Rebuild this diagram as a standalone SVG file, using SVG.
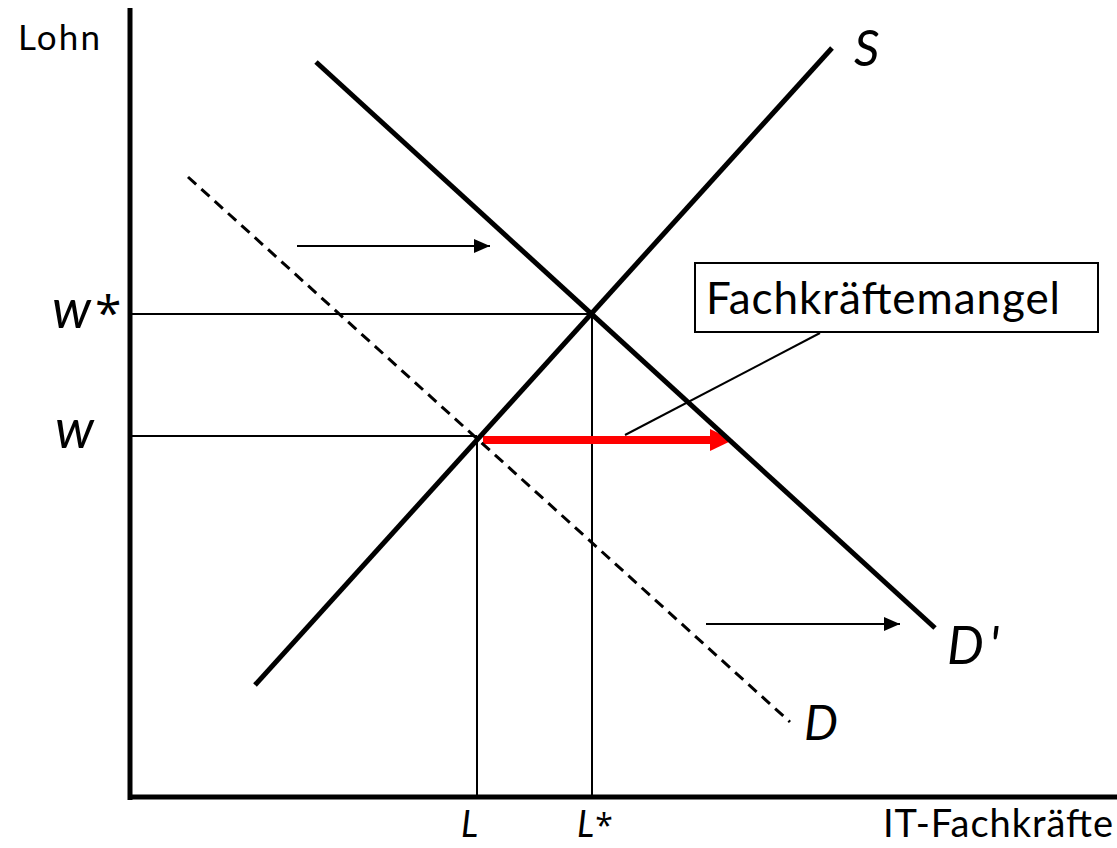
<svg xmlns="http://www.w3.org/2000/svg" width="1117" height="848" viewBox="0 0 1117 848">
<style>
.t{font-family:"Lato","Liberation Sans",sans-serif;fill:#000}
.i{font-style:italic}
.ast{font-family:"Open Sans","DejaVu Sans",sans-serif;font-style:normal}
.thick{stroke:#000;stroke-width:5;fill:none}
.thin{stroke:#000;stroke-width:2;fill:none}
</style>
<defs>
<marker id="ah" markerWidth="8" markerHeight="7" refX="8" refY="3.5" orient="auto" markerUnits="strokeWidth"><path d="M0,0 L8,3.5 L0,7 Z" fill="#000"/></marker>
</defs>
<rect width="1117" height="848" fill="#fff"/>
<g id="axes">
<line x1="130" y1="8" x2="130" y2="800" class="thick"/>
<line x1="128" y1="797" x2="1117" y2="797" class="thick"/>
</g>
<g id="connectors">
<line x1="130" y1="314" x2="592" y2="314" class="thin"/>
<line x1="592" y1="314" x2="592" y2="797" class="thin"/>
<line x1="130" y1="436" x2="477" y2="436" class="thin"/>
<line x1="477" y1="436" x2="477" y2="797" class="thin"/>
<line x1="297" y1="246" x2="490" y2="246" class="thin" marker-end="url(#ah)"/>
<line x1="706" y1="624" x2="900" y2="624" class="thin" marker-end="url(#ah)"/>
<line x1="820" y1="333" x2="625" y2="435" class="thin"/>
<line x1="483" y1="440" x2="712" y2="440" stroke="#ff0000" stroke-width="8"/>
<path d="M710,429 L733,440 L710,451 Z" fill="#ff0000"/>
</g>
<g id="curve-S">
<line x1="255" y1="685" x2="832" y2="48" class="thick"/>
<text x="854" y="66" font-size="50" class="t i" textLength="28">S</text>
</g>
<g id="curve-Dprime">
<line x1="316" y1="62" x2="935" y2="628" class="thick"/>
<text x="947" y="664" font-size="52" class="t i" textLength="52">D'</text>
</g>
<g id="curve-D">
<line x1="188" y1="177" x2="790" y2="722" stroke="#000" stroke-width="3" stroke-dasharray="11,7"/>
<text x="804" y="740" font-size="48" class="t i" textLength="36">D</text>
</g>
<g id="label-box">
<rect x="695" y="263" width="403" height="69" fill="#fff" stroke="#000" stroke-width="2"/>
<text x="706" y="314" font-size="44" class="t" textLength="354">Fachkräftemangel</text>
</g>
<g id="labels">
<text x="18" y="50" font-size="35" class="t" textLength="82">Lohn</text>
<text x="52" y="328" font-size="54" class="t i">w<tspan class="ast" font-size="48" dx="4" dy="2">*</tspan></text>
<text x="55" y="448" font-size="54" class="t i" textLength="40">w</text>
<text x="461" y="837" font-size="36" class="t i" textLength="17">L</text>
<text x="577" y="837" font-size="36" class="t i">L<tspan class="ast" font-size="32" dx="1">*</tspan></text>
<text x="883" y="837" font-size="38" class="t" textLength="230">IT-Fachkräfte</text>
</g>
</svg>
